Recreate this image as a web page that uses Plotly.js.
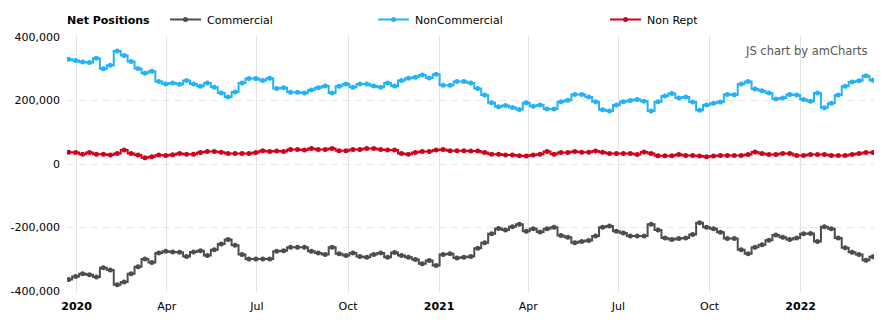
<!DOCTYPE html>
<html>
<head>
<meta charset="utf-8">
<script src="https://cdn.plot.ly/plotly-3.0.1.min.js"></script>
<style>html,body{margin:0;padding:0;background:#fff;}#chart{width:887px;height:327px;}</style>
</head>
<body>
<div id="chart"></div>
<script>
const dates = [
"2019-12-24","2019-12-31",
"2020-01-07","2020-01-14","2020-01-21","2020-01-28","2020-02-04","2020-02-11","2020-02-18","2020-02-25",
"2020-03-03","2020-03-10","2020-03-17","2020-03-24","2020-03-31","2020-04-07","2020-04-14","2020-04-21","2020-04-28",
"2020-05-05","2020-05-12","2020-05-19","2020-05-26","2020-06-02","2020-06-09","2020-06-16","2020-06-23","2020-06-30",
"2020-07-07","2020-07-14","2020-07-21","2020-07-28","2020-08-04","2020-08-11","2020-08-18","2020-08-25",
"2020-09-01","2020-09-08","2020-09-15","2020-09-22","2020-09-29","2020-10-06","2020-10-13","2020-10-20","2020-10-27",
"2020-11-03","2020-11-10","2020-11-17","2020-11-24","2020-12-01","2020-12-08","2020-12-15","2020-12-22","2020-12-29",
"2021-01-05","2021-01-12","2021-01-19","2021-01-26","2021-02-02","2021-02-09","2021-02-16","2021-02-23",
"2021-03-02","2021-03-09","2021-03-16","2021-03-23","2021-03-30","2021-04-06","2021-04-13","2021-04-20","2021-04-27",
"2021-05-04","2021-05-11","2021-05-18","2021-05-25","2021-06-01","2021-06-08","2021-06-15","2021-06-22","2021-06-29",
"2021-07-06","2021-07-13","2021-07-20","2021-07-27","2021-08-03","2021-08-10","2021-08-17","2021-08-24","2021-08-31",
"2021-09-07","2021-09-14","2021-09-21","2021-09-28","2021-10-05","2021-10-12","2021-10-19","2021-10-26",
"2021-11-02","2021-11-09","2021-11-16","2021-11-23","2021-11-30","2021-12-07","2021-12-14","2021-12-21","2021-12-28",
"2022-01-04","2022-01-11","2022-01-18","2022-01-25","2022-02-01","2022-02-08","2022-02-15","2022-02-22",
"2022-03-01","2022-03-08","2022-03-15"
];

const commercial = [
-364000,-354000,-346000,-349000,-356000,-327000,-334000,-380000,-372000,-346000,
-324000,-299000,-310000,-280000,-275000,-277000,-278000,-291000,-277000,-273000,
-288000,-270000,-252000,-238000,-256000,-285000,-299000,-299000,-299000,-299000,
-275000,-273000,-262000,-262000,-262000,-275000,-280000,-285000,-262000,-283000,
-288000,-280000,-291000,-294000,-285000,-280000,-294000,-279000,-288000,-294000,
-301000,-314000,-304000,-320000,-285000,-283000,-296000,-294000,-291000,-265000,
-248000,-220000,-203000,-208000,-198000,-190000,-212000,-204000,-214000,-204000,
-199000,-225000,-231000,-248000,-244000,-241000,-227000,-199000,-195000,-212000,
-217000,-227000,-227000,-227000,-190000,-208000,-233000,-238000,-235000,-233000,
-222000,-185000,-199000,-204000,-215000,-235000,-235000,-270000,-283000,-262000,
-254000,-240000,-224000,-231000,-238000,-233000,-220000,-219000,-244000,-198000,
-204000,-233000,-264000,-278000,-285000,-303000,-292000
];

const nonCommercial = [
330000,326000,321000,320000,333000,300000,311000,356000,342000,323000,
301000,286000,292000,260000,252000,255000,251000,263000,252000,245000,
255000,242000,224000,211000,227000,255000,269000,269000,263000,270000,
238000,240000,226000,226000,224000,233000,240000,246000,224000,245000,
252000,242000,252000,252000,246000,242000,255000,246000,263000,270000,
273000,280000,271000,283000,248000,248000,260000,260000,255000,238000,
217000,193000,180000,184000,178000,172000,193000,182000,186000,173000,
173000,196000,201000,219000,219000,211000,196000,171000,167000,186000,
196000,200000,203000,198000,167000,196000,214000,222000,208000,211000,
195000,169000,186000,191000,195000,219000,218000,252000,260000,236000,
231000,224000,205000,208000,219000,217000,203000,198000,224000,177000,
191000,217000,245000,258000,262000,278000,264000
];

const nonRept = [
37000,36000,31000,36000,31000,31000,28000,33000,44000,33000,
28000,20000,23000,28000,27000,29000,33000,31000,31000,36000,
39000,39000,37000,33000,33000,33000,33000,36000,42000,39000,
41000,39000,46000,46000,44000,49000,46000,46000,49000,42000,
42000,46000,46000,49000,49000,46000,44000,44000,33000,31000,
36000,39000,39000,44000,46000,42000,42000,42000,41000,41000,
36000,31000,31000,28000,28000,26000,25000,28000,31000,39000,
31000,36000,36000,39000,37000,37000,41000,37000,33000,33000,
33000,33000,30000,38000,33000,26000,26000,26000,30000,27000,
27000,25000,23000,25000,27000,27000,27000,27000,30000,38000,
33000,30000,30000,33000,33000,27000,27000,30000,30000,30000,
27000,27000,27000,30000,33000,36000,36000
];

const xTickVals = ["2020-01-01","2020-04-01","2020-07-01","2020-10-01","2021-01-01","2021-04-01","2021-07-01","2021-10-01","2022-01-01"];
const xTickText = ["<b>2020</b>","Apr","Jul","Oct","<b>2021</b>","Apr","Jul","Oct","<b>2022</b>"];
const yTickVals = [-400000,-200000,0,200000,400000];
const yTickText = ["-400,000","-200,000","0","200,000","400,000"];

const seriesNames = ["Commercial","NonCommercial","Non Rept"];
const seriesColors = ["#4d4d4d","#22b2f5","#d0021b"];
const seriesData = [commercial, nonCommercial, nonRept];

const FONT = "DejaVu Sans, Verdana, sans-serif";
// plot area in pixels (one extra pixel above 400,000 and below -400,000 so edge gridlines show)
const L = 67, R = 874, T = 36, B = 292;
const px = v => (v - L) / (R - L);
const py = v => (B - v) / (B - T);

const traces = seriesData.map((ys, i) => ({
  type: "scatter",
  mode: "lines+markers",
  name: seriesNames[i],
  x: dates,
  y: ys,
  line: {shape: "hvh", width: 2, color: seriesColors[i]},
  marker: {size: 5, color: seriesColors[i]},
  hoverinfo: "x+y+name"
}));

const legendLineStarts = [170, 378, 610];
const shapes = [];
const annotations = [{
  xref: "paper", yref: "paper", x: px(65), y: py(20), xanchor: "left", yanchor: "middle",
  text: "<b>Net Positions</b>", showarrow: false, font: {family: FONT, size: 11, color: "#000"}
}];
legendLineStarts.forEach((s, i) => {
  shapes.push({type: "line", xref: "paper", yref: "paper", x0: px(s), x1: px(s + 31), y0: py(19.5), y1: py(19.5),
    line: {color: seriesColors[i], width: 2}});
  shapes.push({type: "circle", xref: "paper", yref: "paper", x0: px(s + 13), x1: px(s + 18), y0: py(17), y1: py(22),
    fillcolor: seriesColors[i], line: {color: seriesColors[i], width: 0}});
  annotations.push({xref: "paper", yref: "paper", x: px(s + 35), y: py(20), xanchor: "left", yanchor: "middle",
    text: seriesNames[i], showarrow: false, font: {family: FONT, size: 11, color: "#000"}});
});
annotations.push({xref: "paper", yref: "paper", x: px(870), y: py(51), xanchor: "right", yanchor: "middle",
  text: "JS chart by amCharts", showarrow: false, font: {family: FONT, size: 11.5, color: "#555"}});

const layout = {
  width: 887, height: 327,
  margin: {l: L, r: 887 - R, t: T, b: 327 - B, pad: 0},
  paper_bgcolor: "#fff", plot_bgcolor: "#fff",
  showlegend: false,
  font: {family: FONT, size: 11, color: "#000"},
  xaxis: {
    type: "date",
    range: ["2019-12-22 07:00", "2022-03-16 02:00"],
    tickmode: "array", tickvals: xTickVals, ticktext: xTickText,
    showgrid: true, gridcolor: "#e2e2e2", gridwidth: 1,
    zeroline: false, showline: false, ticks: "",
    ticklabelstandoff: 6,
    tickfont: {family: FONT, size: 11, color: "#000"},
    fixedrange: true
  },
  yaxis: {
    range: [-403150, 403150],
    tickmode: "array", tickvals: yTickVals, ticktext: yTickText,
    showgrid: true, gridcolor: "#e6e6e6", gridwidth: 1, griddash: "7px,5px",
    zeroline: false, showline: false, ticks: "",
    ticklabelstandoff: 6,
    tickfont: {family: FONT, size: 11, color: "#000"},
    fixedrange: true
  },
  shapes: shapes,
  annotations: annotations
};

Plotly.newPlot("chart", traces, layout, {displayModeBar: false, staticPlot: true});
</script>
</body>
</html>
